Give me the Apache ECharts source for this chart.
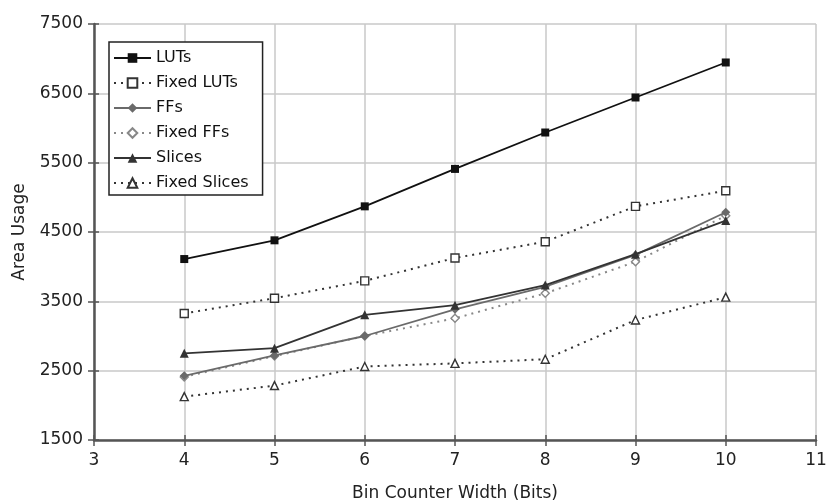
<!DOCTYPE html>
<html>
<head>
<meta charset="utf-8">
<script src="https://cdn.jsdelivr.net/npm/echarts@6/dist/echarts.min.js"></script>
<style>
  html, body { margin: 0; padding: 0; background: #fff; }
  #chart { width: 827px; height: 500px; }
</style>
</head>
<body>
<div id="chart"></div>
<script>
// Bin counter width (bits)
const widths = [4, 5, 6, 7, 8, 9, 10];

// Area usage per configuration
const luts        = [4110, 4380, 4870, 5410, 5935, 6440, 6945];
const fixedLuts   = [3325, 3545, 3795, 4125, 4360, 4870, 5095];
const ffs         = [2425, 2720, 3000, 3385, 3710, 4170, 4785];
const fixedFfs    = [2410, 2710, 3000, 3255, 3615, 4070, 4735];
const slices      = [2750, 2825, 3305, 3445, 3735, 4180, 4665];
const fixedSlices = [2125, 2285, 2560, 2605, 2665, 3230, 3560];

const FONT = '"DejaVu Sans", sans-serif';
const AXIS_COLOR = '#555';

function pairs(vals) {
  return widths.map((w, i) => [w, vals[i]]);
}

function makeSeries(name, vals, opts) {
  return {
    name: name,
    type: 'line',
    data: pairs(vals),
    symbol: opts.symbol,
    symbolSize: opts.size,
    showAllSymbol: true,
    lineStyle: { color: opts.color, width: opts.width, type: opts.dotted ? [2, 5] : 'solid' },
    itemStyle: {
      color: opts.hollow ? '#fff' : opts.color,
      borderColor: opts.color,
      borderWidth: opts.hollow ? 1.4 : 0
    },
    emphasis: { disabled: true },
    animation: false,
    z: opts.z || 2
  };
}

// Inner half of the crossing tick marks, drawn by an overlay axis
function tickOverlay(base) {
  return Object.assign({
    type: 'value',
    axisLine: { show: false },
    axisTick: { show: true, inside: true, length: 5, lineStyle: { color: AXIS_COLOR, width: 1.5 } },
    axisLabel: { show: false },
    splitLine: { show: false }
  }, base);
}

const chart = echarts.init(document.getElementById('chart'), null, { renderer: 'canvas' });

chart.setOption({
  backgroundColor: '#fff',
  textStyle: { fontFamily: FONT },
  grid: { left: 94, right: 11, top: 24, bottom: 60, containLabel: false, outerBoundsMode: 'none' },
  legend: {
    orient: 'vertical',
    left: 109,
    top: 42,
    padding: [7, 14, 3, 4],
    itemGap: 7,
    itemWidth: 37,
    itemHeight: 12,
    backgroundColor: '#fff',
    borderColor: '#222',
    borderWidth: 1.5,
    borderRadius: 0,
    selectedMode: false,
    textStyle: { fontFamily: FONT, fontSize: 16, lineHeight: 18, color: '#111' },
    data: ['LUTs', 'Fixed LUTs', 'FFs', 'Fixed FFs', 'Slices', 'Fixed Slices']
  },
  xAxis: [{
    type: 'value',
    min: 3,
    max: 11,
    interval: 1,
    name: 'Bin Counter Width (Bits)',
    nameLocation: 'middle',
    nameGap: 45,
    nameTextStyle: { fontFamily: FONT, fontSize: 17, color: '#222' },
    axisLine: { show: true, onZero: false, lineStyle: { color: AXIS_COLOR, width: 2.5 } },
    axisTick: { show: true, length: 6, lineStyle: { color: AXIS_COLOR, width: 1.5 } },
    axisLabel: { fontFamily: FONT, fontSize: 17, color: '#222', margin: 12 },
    splitLine: { show: true, lineStyle: { color: '#c8c8c8', width: 1.5 } }
  }, tickOverlay({ min: 3, max: 11, interval: 1, position: 'bottom' })],
  yAxis: [{
    type: 'value',
    min: 1500,
    max: 7500,
    interval: 1000,
    name: 'Area Usage',
    nameLocation: 'middle',
    nameGap: 66,
    nameTextStyle: { fontFamily: FONT, fontSize: 17, color: '#222' },
    axisLine: { show: true, lineStyle: { color: AXIS_COLOR, width: 2.5 } },
    axisTick: { show: true, length: 6, lineStyle: { color: AXIS_COLOR, width: 1.5 } },
    axisLabel: { fontFamily: FONT, fontSize: 17, color: '#222', margin: 11, formatter: v => String(v) },
    splitLine: { show: true, lineStyle: { color: '#c8c8c8', width: 1.5 } }
  }, tickOverlay({ min: 1500, max: 7500, interval: 1000, position: 'left' })],
  series: [
    makeSeries('LUTs', luts, { symbol: 'rect', size: 8, color: '#111', width: 1.8, z: 6 }),
    makeSeries('Fixed LUTs', fixedLuts, { symbol: 'rect', size: 8, color: '#333', width: 2, dotted: true, hollow: true, z: 5 }),
    makeSeries('FFs', ffs, { symbol: 'diamond', size: 9, color: '#6a6a6a', width: 1.8, z: 3 }),
    makeSeries('Fixed FFs', fixedFfs, { symbol: 'diamond', size: 8, color: '#888', width: 2, dotted: true, hollow: true, z: 2 }),
    makeSeries('Slices', slices, { symbol: 'triangle', size: 9, color: '#333', width: 1.8, z: 4 }),
    makeSeries('Fixed Slices', fixedSlices, { symbol: 'triangle', size: 8, color: '#333', width: 2, dotted: true, hollow: true, z: 2 })
  ]
});
</script>
</body>
</html>
